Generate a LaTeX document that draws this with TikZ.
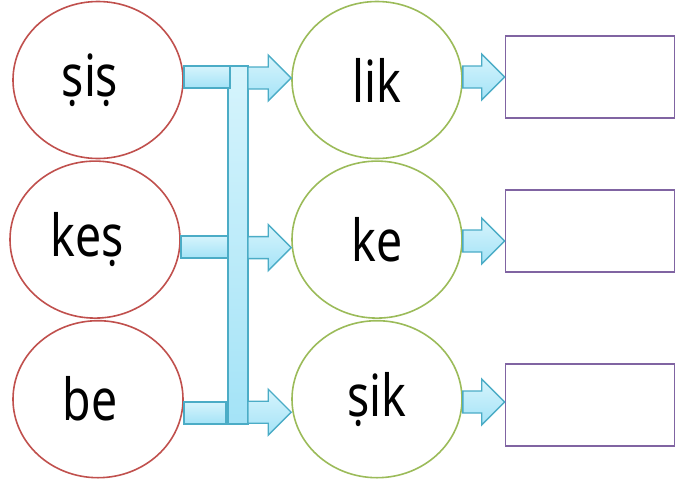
\documentclass[tikz,border=0pt]{standalone}
\usepackage{fontspec}
\setmainfont[FakeStretch=0.8]{Noto Sans}
\usetikzlibrary{shapes.geometric, positioning, calc}

\definecolor{ballred}{HTML}{C0504D}
\definecolor{ballgreen}{HTML}{9BBB59}
\definecolor{boxviolet}{HTML}{8064A2}
\definecolor{arrowedge}{HTML}{4BACC6}
\definecolor{arrowtop}{HTML}{D6F4FC}
\definecolor{arrowbot}{HTML}{A4E3F7}

% block arrow: #1 gives start x, #2 is the tip
\newcommand{\blockarrow}[2]{%
\draw [blockarrow] let \p1=(#1), \p2=(#2) in
  (\x1,\y2+11pt) -- (\x2-23pt,\y2+11pt) -- (\x2-23pt,\y2+23pt) -- (\x2,\y2)
  -- (\x2-23pt,\y2-23pt) -- (\x2-23pt,\y2-11pt) -- (\x1,\y2-11pt) -- cycle;}

\begin{document}
\begin{tikzpicture}[x=1pt, y=-1pt]
\tikzstyle{redball} = [ellipse, minimum width=170pt, minimum height=157pt, draw=ballred, line width=1.6pt, font=\fontsize{58}{58}\selectfont, execute at begin node=\hspace*{-16pt}]
\tikzstyle{greenball} = [ellipse, minimum width=170pt, minimum height=157pt, draw=ballgreen, line width=1.6pt, font=\fontsize{58}{58}\selectfont]
\tikzstyle{answer} = [rectangle, minimum width=169pt, minimum height=82pt, draw=boxviolet, line width=1.6pt]
\tikzstyle{blockarrow} = [draw=arrowedge, line width=1.4pt, top color=arrowtop, bottom color=arrowbot, line join=miter]
\tikzstyle{bar} = [blockarrow]

\useasboundingbox (0,0) rectangle (694,488);

%nodes
\node (sis) [redball] at (98,80) {ṣiṣ};
\node (kes) [redball, below=1pt of sis, xshift=-3pt] {keṣ};
\node (be) [redball, below=1pt of kes, xshift=3pt] {be};

\node (lik) [greenball] at (377,80) {lik};
\node (ke) [greenball, below=1pt of lik] {ke};
\node (sik) [greenball, below=1pt of ke] {ṣik};

\node (box1) [answer] at (590,77) {};
\node (box2) [answer] at (590,231) {};
\node (box3) [answer] at (590,405) {};

\coordinate (bustop) at (238,66);
\coordinate (busbot) at (238,424);

%lines
\draw [bar] (kes.east |- 0,236) rectangle (228,258);
\draw [bar] (be.east |- 0,402) rectangle (226,424);
\draw [bar] ($(bustop)+(-10,0)$) rectangle ($(busbot)+(10,0)$);
\draw [bar] (sis.east |- 0,66) rectangle (230,88);

\blockarrow{$(bustop)+(10,0)$}{$(lik.west)+(0,-2)$}
\blockarrow{$(bustop)+(10,0)$}{$(ke.west)+(0,8)$}
\blockarrow{$(bustop)+(10,0)$}{$(sik.west)+(0,13)$}

\blockarrow{lik.east}{box1.west}
\blockarrow{ke.east}{$(box2.west)+(0,10)$}
\blockarrow{sik.east}{$(box3.west)+(0,-3)$}

\end{tikzpicture}
\end{document}
